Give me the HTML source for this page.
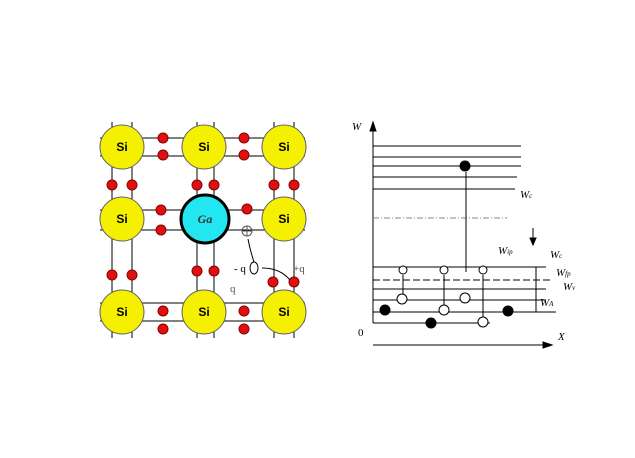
<!DOCTYPE html>
<html><head><meta charset="utf-8"><style>
body{margin:0;background:#fff;width:635px;height:458px;overflow:hidden}
svg{display:block;font-family:"Liberation Serif",serif}
</style></head><body>
<svg width="635" height="458" viewBox="0 0 635 458">
<g stroke="#000" stroke-width="1">
  <g>
  <line x1="100" y1="138" x2="305" y2="138"/><line x1="100" y1="156" x2="305" y2="156"/>
  <line x1="100" y1="210" x2="305" y2="210"/><line x1="100" y1="230" x2="305" y2="230"/>
  <line x1="100" y1="303" x2="305" y2="303"/><line x1="100" y1="321" x2="305" y2="321"/>
  <line x1="112" y1="122" x2="112" y2="338"/><line x1="132" y1="122" x2="132" y2="338"/>
  <line x1="197" y1="122" x2="197" y2="338"/><line x1="214" y1="122" x2="214" y2="338"/>
  <line x1="274" y1="122" x2="274" y2="338"/><line x1="294" y1="122" x2="294" y2="338"/>
  </g>
  <g fill="#f5f000" stroke="#666">
  <circle cx="122" cy="147" r="22"/><circle cx="204" cy="147" r="22"/><circle cx="284" cy="147" r="22"/>
  <circle cx="122" cy="219" r="22"/><circle cx="284" cy="219" r="22"/>
  <circle cx="122" cy="312" r="22"/><circle cx="204" cy="312" r="22"/><circle cx="284" cy="312" r="22"/>
  </g>
  <circle cx="205" cy="219" r="24" fill="#22e6f0" stroke="#000" stroke-width="3"/>
  <g fill="#e01010" stroke="#800">
  <circle cx="163" cy="138" r="5"/><circle cx="163" cy="155" r="5"/><circle cx="244" cy="138" r="5"/><circle cx="244" cy="155" r="5"/>
  <circle cx="112" cy="185" r="5"/><circle cx="132" cy="185" r="5"/><circle cx="197" cy="185" r="5"/><circle cx="214" cy="185" r="5"/><circle cx="274" cy="185" r="5"/><circle cx="294" cy="185" r="5"/>
  <circle cx="161" cy="210" r="5"/><circle cx="161" cy="230" r="5"/><circle cx="247" cy="209" r="5"/>
  <circle cx="112" cy="275" r="5"/><circle cx="132" cy="275" r="5"/><circle cx="197" cy="271" r="5"/><circle cx="214" cy="271" r="5"/><circle cx="273" cy="282" r="5"/><circle cx="294" cy="282" r="5"/>
  <circle cx="163" cy="311" r="5"/><circle cx="163" cy="329" r="5"/><circle cx="244" cy="311" r="5"/><circle cx="244" cy="329" r="5"/>
  </g>
  <g fill="none" stroke="#555">
  <circle cx="247" cy="231" r="5"/><line x1="242" y1="231" x2="252" y2="231"/><line x1="247" y1="226" x2="247" y2="236"/>
  </g>
  <ellipse cx="254" cy="268" rx="4" ry="6" fill="none" stroke="#000"/>
  <path d="M254 262 Q250 250 248 239" fill="none" stroke="#000"/>
  <path d="M290 280 Q280 268 262 268" fill="none" stroke="#000"/>
</g>
<g font-family="Liberation Sans,sans-serif" font-weight="bold" font-size="12" text-anchor="middle">
<text x="122" y="151">Si</text><text x="204" y="151">Si</text><text x="284" y="151">Si</text>
<text x="122" y="223">Si</text><text x="284" y="223">Si</text>
<text x="122" y="316">Si</text><text x="204" y="316">Si</text><text x="284" y="316">Si</text>
<text x="205" y="223" font-family="Liberation Serif,serif" font-style="italic" fill="#333">Ga</text>
</g>
<text x="234" y="272" font-size="11">- q</text>
<text x="293" y="272" font-size="11" fill="#555">+q</text>
<text x="230" y="292" font-size="11" fill="#555">q</text>

<g stroke="#000">
  <line x1="373" y1="323" x2="373" y2="127"/><path d="M373 122 L370 131 L376 131Z" fill="#000"/>
  <line x1="373" y1="345" x2="545" y2="345"/><path d="M552 345 L543 342 L543 348Z" fill="#000"/>
  <g>
  <line x1="373" y1="146" x2="521" y2="146"/><line x1="373" y1="157" x2="521" y2="157"/><line x1="373" y1="166" x2="521" y2="166"/><line x1="373" y1="177" x2="517" y2="177"/><line x1="373" y1="189" x2="515" y2="189"/>
  </g>
  <line x1="373" y1="218" x2="507" y2="218" stroke="#888" stroke-dasharray="6,2,1,2"/>
  <line x1="533" y1="228" x2="533" y2="240"/><path d="M533 245 L530 238 L536 238Z" fill="#000"/>
  <g>
  <line x1="373" y1="267" x2="546" y2="267"/>
  <line x1="373" y1="280" x2="553" y2="280" stroke-dasharray="7,3"/>
  <line x1="373" y1="289" x2="546" y2="289"/><line x1="373" y1="300" x2="546" y2="300"/><line x1="373" y1="312" x2="546" y2="312"/><line x1="373" y1="323" x2="430" y2="323"/><line x1="430" y1="323" x2="490" y2="323"/>
  <line x1="536" y1="267" x2="536" y2="312"/><line x1="536" y1="312" x2="556" y2="312"/>
  </g>
  <line x1="466" y1="272" x2="466" y2="172"/>
  <line x1="403" y1="295" x2="403" y2="275"/><line x1="444" y1="306" x2="444" y2="275"/><line x1="483" y1="318" x2="483" y2="275"/>
  <g fill="#000">
  <circle cx="465" cy="166" r="5"/><circle cx="385" cy="310" r="5"/><circle cx="431" cy="323" r="5"/><circle cx="508" cy="311" r="5"/>
  </g>
  <g fill="#fff">
  <circle cx="403" cy="270" r="4"/><circle cx="444" cy="270" r="4"/><circle cx="483" cy="270" r="4"/>
  <circle cx="402" cy="299" r="5"/><circle cx="444" cy="310" r="5"/><circle cx="465" cy="298" r="5"/><circle cx="483" cy="322" r="5"/>
  </g>
</g>
<g font-style="italic" font-size="11">
<text x="352" y="130">W</text><text x="520" y="198">W<tspan font-size="7">c</tspan></text>
<text x="498" y="254">W<tspan font-size="7">ip</tspan></text><text x="550" y="258">W<tspan font-size="7">c</tspan></text>
<text x="556" y="276">W<tspan font-size="7">fp</tspan></text><text x="563" y="290">W<tspan font-size="7">v</tspan></text>
<text x="540" y="306">W<tspan font-size="7">A</tspan></text>
<text x="358" y="336" font-style="normal">0</text><text x="558" y="340">X</text>
</g>
</svg>
</body></html>
